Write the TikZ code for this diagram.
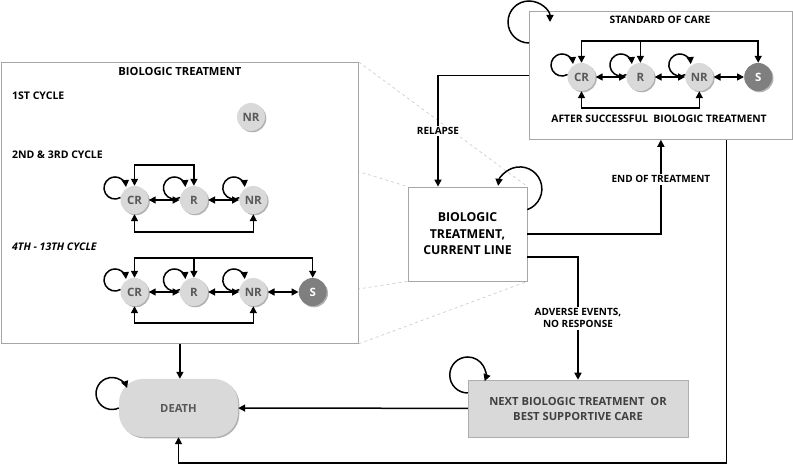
\documentclass[tikz,border=0pt]{standalone}
\usepackage{fontspec}
\setmainfont{Open Sans}
\usetikzlibrary{positioning,arrows.meta,shadows,backgrounds}
\definecolor{boxgray}{HTML}{A6A6A6}
\definecolor{stfill}{HTML}{D9D9D9}
\definecolor{sfill}{HTML}{7F7F7F}
\definecolor{sttext}{HTML}{595959}
\definecolor{zoomgray}{HTML}{C8C8C8}

\begin{document}
\begin{tikzpicture}
[x=1pt,y=1pt,%
  every node/.style={font=\bfseries},%
  arr/.style={-{Triangle[length=7pt,width=7pt]},line width=1.5pt},%
  dbl/.style={{Triangle[length=7pt,width=7pt]}-{Triangle[length=7pt,width=7pt]},line width=1.5pt},%
  shade/.style={drop shadow={shadow xshift=1.3pt,shadow yshift=-1.3pt,opacity=0.3,fill=black}},%
  panel/.style={draw=boxgray,fill=white,line width=0.8pt,inner sep=0pt},%
  state/.style={circle,fill=stfill,text=sttext,minimum size=28pt,inner sep=0pt,shade,%
    font=\bfseries\fontsize{11.5}{12}\selectfont},%
  sink/.style={state,fill=sfill,text=white},%
  lbl/.style={fill=white,inner sep=1.5pt,font=\bfseries\fontsize{10}{12}\selectfont},%
  cyc/.style={anchor=base west,inner sep=0pt,font=\bfseries\fontsize{10.5}{12}\selectfont},%
  zoomline/.style={draw=zoomgray,dashed,line width=0.6pt}]
\useasboundingbox (0,0) rectangle (793,465);

\node[panel,anchor=north west,minimum width=357pt,minimum height=281pt] (bio) at (1,403) {};
\node[anchor=base,inner sep=0pt,font=\bfseries\fontsize{11.2}{12}\selectfont] at ([yshift=-13.6pt]bio.north) {BIOLOGIC TREATMENT};
\node[cyc] at (12,365.5) {1ST CYCLE};
\node[cyc] at (12,306.4) {2ND \& 3RD CYCLE};
\node[cyc,font=\bfseries\itshape\fontsize{10.5}{12}\selectfont] at (12,214.4) {4TH - 13TH CYCLE};

\node[state] (nr1) at (251,348) {NR};

\node[state] (cra) at (134.5,265) {CR};
\node[state,right=31pt of cra] (ra) {R};
\node[state,right=31pt of ra] (nra) {NR};

\node[state] (crb) at (134.5,173) {CR};
\node[state,right=31pt of crb] (rb) {R};
\node[state,right=31pt of rb] (nrb) {NR};
\node[sink,right=31pt of nrb] (sb) {S};

\node[panel,anchor=north west,minimum width=263pt,minimum height=128pt] (soc) at (529,454) {};
\node[anchor=base,inner sep=0pt,font=\bfseries\fontsize{10.3}{12}\selectfont] at (660,441.4) {STANDARD OF CARE};
\node[anchor=base,inner sep=0pt,font=\bfseries\fontsize{10.3}{12}\selectfont] at (659,342.4) {AFTER SUCCESSFUL\ \ BIOLOGIC TREATMENT};
\node[state] (crs) at (581.5,388) {CR};
\node[state,right=30.5pt of crs] (rs) {R};
\node[state,right=30.5pt of rs] (nrs) {NR};
\node[sink,right=30.5pt of nrs] (ss) {S};

\node[panel,minimum width=119pt,minimum height=94pt,align=center,%
  font=\bfseries\fontsize{12.3}{16.5}\selectfont] (ctr) at (467.5,231) {BIOLOGIC\\TREATMENT,\\CURRENT LINE};

\node[fill=stfill,draw=stfill!80!black,line width=0.5pt,shade,minimum width=220pt,minimum height=57pt,%
  align=center,text=black!75,font=\bfseries\fontsize{11.2}{15}\selectfont] (next) at (578,56.5)
  {NEXT BIOLOGIC TREATMENT\ \ OR\\BEST SUPPORTIVE CARE};
\node[fill=stfill,rounded corners=24pt,shade,minimum width=119pt,minimum height=58pt,%
  text=sttext,font=\bfseries\fontsize{11.2}{12}\selectfont] (death) at (178.5,57) {DEATH};

\begin{scope}[on background layer]
\draw[zoomline] (bio.north west) -- (ctr.north west);
\draw[zoomline] (bio.south west) -- (ctr.south west);
\draw[zoomline] (bio.north east) -- (ctr.north east);
\draw[zoomline] (bio.south east) -- (ctr.south east);
\end{scope}

\foreach \n in {cra,ra,nra,crb,rb,nrb,crs,rs,nrs}
  \draw[arr] (\n.170) arc[start angle=300,end angle=5,radius=11pt];
\foreach \a/\b in {cra/ra,ra/nra,crb/rb,rb/nrb,nrb/sb,crs/rs,rs/nrs,nrs/ss}
  \draw[dbl] (\a) -- (\b);

\draw[dbl] (cra.north) -- ++(0,21) -| (ra.north);
\draw[dbl] (cra.south) -- ++(0,-18) -| (nra.south);

\draw[dbl] (crb.north) -- ++(0,20) coordinate (topb) -| (sb.north);
\draw[arr] (topb -| rb.north) -- (rb.north);
\draw[dbl] (crb.south) -- ++(0,-17) -| (nrb.south);

\draw[dbl] (crs.north) -- ++(0,22) coordinate (tops) -| (ss.north);
\draw[arr] (tops -| rs.north) -- (rs.north);
\draw[dbl] (crs.south) -- ++(0,-17) -| (nrs.south);

\draw[arr] (soc.west) -| ([xshift=-29.5pt]ctr.north) node[lbl,pos=0.75] {RELAPSE};
\draw[arr] (ctr.east) -| (soc.south) node[lbl,pos=0.79] {END OF TREATMENT};
\draw[arr] ([yshift=-23pt]ctr.east) -| (next.north) node[lbl,pos=0.75,align=center] {ADVERSE EVENTS,\\NO RESPONSE};
\draw[arr] (next) -- (death);
\draw[arr] (bio.south) -- (bio.south |- death.north);
\draw[arr] ([xshift=65.5pt]soc.south) |- ([yshift=-26pt]death.south) -- (death.south);

\draw[arr] ([yshift=-32pt]soc.north west) arc[start angle=270,end angle=0,radius=21pt];
\draw[arr] ([yshift=-23pt]ctr.north east) arc[start angle=-70,end angle=172,radius=22pt];
\draw[arr] ([yshift=15.5pt]next.west) arc[start angle=270,end angle=-20,radius=18pt];
\draw[arr] (death.west) arc[start angle=-65,end angle=-340,radius=16pt];
\end{tikzpicture}
\end{document}
